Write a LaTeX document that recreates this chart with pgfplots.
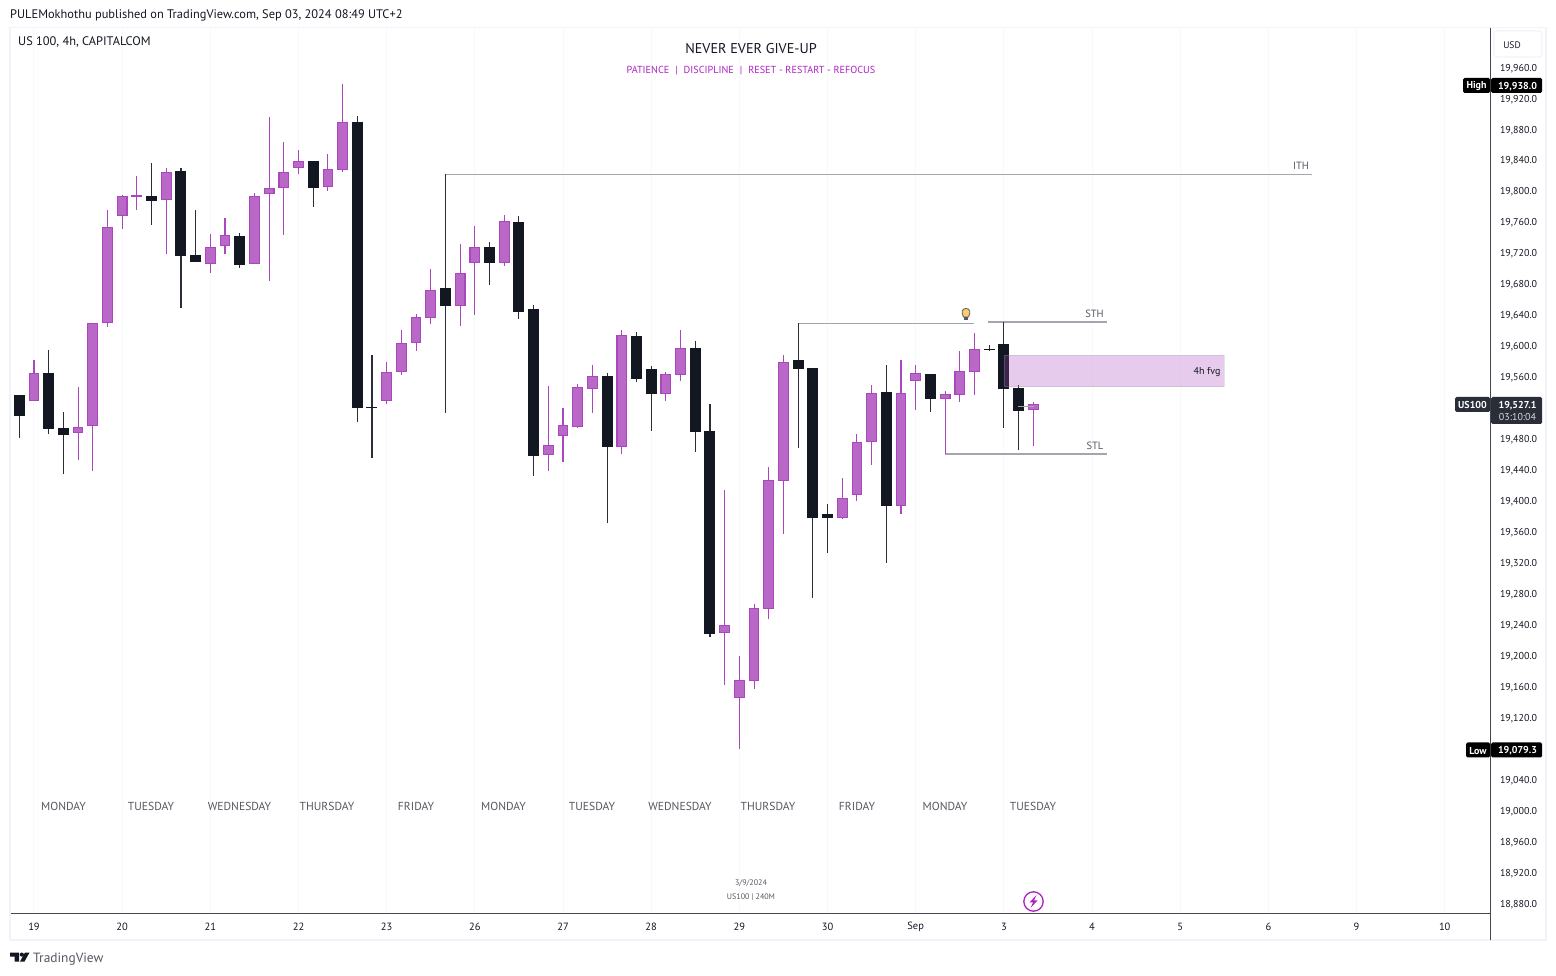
\documentclass[border=0pt]{standalone}
\usepackage{pgfplots}
\usepackage{pgfplotstable}
\usepackage{fontspec}
\setmainfont{PT Sans}
\pgfplotsset{compat=1.18}
\definecolor{dk}{HTML}{131722}
\definecolor{wickd}{HTML}{2A2E39}
\definecolor{pf}{HTML}{BA68C8}
\definecolor{pb}{HTML}{AB47BC}
\definecolor{frame}{HTML}{F0F3FA}
\definecolor{axl}{HTML}{434651}
\definecolor{gridc}{HTML}{F8F9FD}
\definecolor{lvl}{HTML}{A3A6AF}
\definecolor{txt}{HTML}{131722}
\definecolor{gry}{HTML}{555862}
\definecolor{mag}{HTML}{AE22C4}
\definecolor{bulb}{HTML}{FFCA6B}
\pgfplotstableread{
i t b h l
0 19536.9 19510.2 19536.9 19481.8
2 19565.3 19493.4 19595.1 19487.0
3 19493.9 19485.7 19515.0 19435.3
9 19794.0 19788.0 19836.6 19757.0
11 19826.3 19716.9 19830.2 19649.8
12 19717.8 19709.2 19775.9 19709.2
15 19742.3 19705.3 19746.2 19701.4
20 19839.2 19804.8 19839.2 19780.2
23 19889.6 19520.6 19897.4 19502.5
24 19521.4 19520.6 19588.6 19456.0
29 19675.1 19651.9 19822.0 19514.1
32 19728.1 19707.9 19734.6 19679.0
34 19760.4 19644.1 19768.2 19635.1
35 19648.0 19458.1 19653.2 19432.3
40 19561.5 19469.7 19565.3 19371.6
42 19613.1 19557.6 19618.3 19553.7
43 19570.5 19538.2 19574.4 19490.4
46 19597.6 19489.1 19606.7 19463.3
47 19490.4 19228.6 19525.2 19224.7
53 19582.1 19570.5 19629.5 19468.4
54 19571.8 19378.0 19571.8 19274.6
55 19383.1 19378.0 19396.1 19332.8
59 19540.7 19393.5 19575.6 19319.8
62 19564.0 19531.7 19564.0 19514.9
66 19596.3 19595.0 19601.5 19593.7
67 19602.8 19544.6 19630.7 19494.2
68 19545.9 19516.2 19549.8 19465.8
}\darkbars
\pgfplotstableread{
i t b h l
1 19564.9 19528.7 19582.1 19528.7
4 19495.2 19487.4 19547.3 19453.4
5 19629.5 19496.5 19629.5 19439.2
6 19753.5 19629.5 19775.9 19625.2
7 19793.6 19767.7 19795.3 19751.8
8 19795.3 19793.1 19819.8 19776.4
10 19824.6 19788.4 19830.2 19719.5
13 19727.7 19705.7 19744.9 19695.0
14 19743.2 19729.0 19765.6 19719.5
16 19793.6 19705.7 19797.5 19705.7
17 19803.9 19796.2 19896.1 19684.6
18 19824.6 19803.9 19863.8 19744.1
19 19838.8 19829.7 19853.4 19822.9
21 19828.5 19805.2 19848.3 19800.9
22 19889.2 19827.2 19938.0 19825.4
25 19566.2 19528.7 19579.6 19525.7
26 19603.7 19566.2 19620.9 19563.2
27 19637.2 19604.5 19641.6 19594.2
28 19672.1 19636.8 19699.7 19629.1
30 19694.1 19652.3 19732.0 19626.5
31 19727.7 19707.9 19755.2 19640.3
33 19761.3 19707.9 19769.4 19703.6
36 19471.9 19459.8 19548.5 19438.7
37 19497.7 19484.4 19520.1 19450.4
38 19546.8 19496.0 19551.1 19494.3
39 19561.0 19545.1 19575.7 19513.7
41 19614.0 19470.2 19620.9 19460.7
44 19563.6 19538.6 19566.6 19529.2
45 19597.2 19563.2 19620.9 19555.0
48 19239.3 19229.8 19414.1 19162.2
49 19168.3 19145.9 19199.7 19079.3
50 19261.3 19167.8 19266.9 19157.1
51 19426.6 19260.8 19443.9 19247.5
52 19579.1 19426.2 19588.5 19357.3
56 19403.4 19378.4 19429.6 19376.7
57 19475.7 19408.1 19486.5 19399.9
58 19539.0 19476.6 19549.8 19446.4
60 19539.0 19393.9 19582.1 19383.1
61 19564.9 19555.4 19575.6 19517.5
63 19537.7 19532.1 19542.0 19460.2
64 19567.4 19537.3 19593.7 19527.8
65 19595.9 19567.0 19617.0 19536.9
69 19524.8 19517.9 19527.8 19471.0
}\purplebars
\newcommand{\fs}[1]{\fontsize{#1}{#1}\selectfont}
\newcommand{\tb}[5][txt]{\node[text=#1,anchor=#4,inner sep=0pt,yshift=-0.8pt,font=\fs{#5}] at (#2) {#3};}
\begin{document}
\begin{tikzpicture}[x=1pt,y=1pt]
\path[use as bounding box] (0,0) rectangle (1556,975);
\fill[white] (0,0) rectangle (1556,975);
\begin{axis}[
  at={(10pt,61pt)}, anchor=south west, scale only axis,
  width=1480pt, height=886pt,
  xmin=-0.633, xmax=100.08, ymin=18866.4, ymax=20011,
  axis x line=bottom, axis y line=right,
  axis line style={color=axl,line width=1pt,-},
  xtick={1,7,13,19,25,31,37,43,49,55,61,67,73,79,85,91,97},
  xticklabels={19,20,21,22,23,26,27,28,29,30,Sep,3,4,5,6,9,10},
  ytick={18880,18920,18960,19000,19040,19120,19160,19200,19240,19280,19320,19360,19400,19440,19480,19560,19600,19640,19680,19720,19760,19800,19840,19880,19920,19960},
  scaled y ticks=false,
  major tick length=0pt,
  xmajorgrids, major grid style={color=gridc,line width=1pt},
  xticklabel style={font=\fs{10.5},text=txt,anchor=center,yshift=-12.5pt},
  yticklabel style={font=\fs{10},text=txt,anchor=west,xshift=6.5pt,yshift=-0.8pt},
  /pgf/number format/fixed,/pgf/number format/fixed zerofill,/pgf/number format/precision=1,/pgf/number format/1000 sep={,},/pgf/number format/assume math mode=true,
  error bars/error mark=none,
]
% levels
\addplot[lvl,line width=1.2pt,forget plot] coordinates {(29,19821.8) (87.97,19821.8)};
\addplot[lvl,line width=1.2pt,forget plot] coordinates {(53,19629.5) (65,19629.5)};
\addplot[lvl,line width=1.2pt,forget plot] coordinates {(65.94,19631.2) (74,19631.2)};
\addplot[lvl,line width=1.2pt,forget plot] coordinates {(63,19460.7) (74,19460.7)};
% wicks
\addplot[draw=none,mark=none,forget plot,error bars/.cd,y dir=both,y explicit,
   error bar style={wickd,line width=1.1pt}]
   table[x=i,y=t,y error plus expr=\thisrow{h}-\thisrow{t},y error minus expr=\thisrow{t}-\thisrow{l}]{\darkbars};
\addplot[draw=none,mark=none,forget plot,error bars/.cd,y dir=both,y explicit,
   error bar style={pb,line width=1.1pt}]
   table[x=i,y=t,y error plus expr=\thisrow{h}-\thisrow{t},y error minus expr=\thisrow{t}-\thisrow{l}]{\purplebars};
% bodies
\addplot[draw=none,mark=none,forget plot,error bars/.cd,y dir=both,y explicit,
   error bar style={dk,line width=11pt}]
   table[x=i,y=t,y error plus expr=0,y error minus expr=\thisrow{t}-\thisrow{b}]{\darkbars};
\addplot[draw=none,mark=none,forget plot,error bars/.cd,y dir=both,y explicit,
   error bar style={pb,line width=10.8pt}]
   table[x=i,y=t,y error plus expr=0,y error minus expr=\thisrow{t}-\thisrow{b}]{\purplebars};
\addplot[draw=none,mark=none,forget plot,error bars/.cd,y dir=both,y explicit,
   error bar style={pf,line width=8.6pt}]
   table[x=i,y expr=(\thisrow{t}+\thisrow{b})/2,y error expr={max((\thisrow{t}-\thisrow{b})/2-1.3,0)}]{\purplebars};
% tail line on last candle
\addplot[lvl,line width=1.1pt,forget plot] coordinates {(67.94,19522.3) (69.05,19522.3)};
% fvg box
\addplot[fill=pb,fill opacity=0.28,draw=lvl,draw opacity=0.3,line width=1pt,forget plot]
   coordinates {(67.03,19588) (82,19588) (82,19547.6) (67.03,19547.6)} --cycle;
\end{axis}
\begin{scope}[x=1pt,y=-1pt,shift={(0pt,975pt)}]
% frame
\draw[frame,line width=1.6pt] (10,27.5) rectangle (1546,940);
\draw[axl,line width=1pt] (1490.3,28) -- (1490.3,940);
% header
\tb{10,14.5}{PULEMokhothu published on TradingView.com, Sep 03, 2024 08:49 UTC+2}{west}{12.4}
\tb{18,41.5}{US 100, 4h, CAPITALCOM}{west}{12.4}
\tb{751,47.5}{NEVER EVER GIVE-UP}{center}{14.2}
\tb[mag]{751,69.5}{PATIENCE\hspace{6pt}|\hspace{6pt}DISCIPLINE\hspace{6pt}|\hspace{6pt}RESET - RESTART - REFOCUS}{center}{10.2}
% weekdays
\foreach \x/\d in {63.5/MONDAY,151/TUESDAY,239.5/WEDNESDAY,327/THURSDAY,416/FRIDAY,503.5/MONDAY,592/TUESDAY,680/WEDNESDAY,768/THURSDAY,857/FRIDAY,945/MONDAY,1033/TUESDAY}
  {\tb[gry]{\x,805.5}{\d}{center}{11.6}}
% level labels
\tb[gry]{1301,165}{ITH}{center}{10.5}
\tb[gry]{1094.5,313.5}{STH}{center}{10.5}
\tb[gry]{1095,445.5}{STL}{center}{10.5}
\tb{1207,371}{4h fvg}{center}{10}
\tb[gry]{751,882}{3/9/2024}{center}{8}
\tb[gry]{751,896}{US100 | 240M}{center}{8}
% bulb
\draw[fill=bulb,draw=gry,line width=0.8pt] (963.5,317) .. controls (961,312) and (962,308.5) .. (966,308.5) .. controls (970,308.5) and (971,312) .. (968.5,317) -- cycle;
\fill[gry] (964,317) rectangle (968,320);
% bolt badge
\draw[mag,line width=1.3pt,fill=white] (1033.5,901.5) circle (9.7);
\fill[mag] (1036.5,895) -- (1029.5,902.5) -- (1033,902.5) -- (1030.5,908) -- (1037.5,900.5) -- (1034,900.5) -- cycle;
% usd
\draw[frame,line width=1.2pt,fill=white,rounded corners=3pt] (1494,31) rectangle (1542,57);
\tb{1512,44.5}{USD}{center}{9.5}
% high
\fill[black,rounded corners=1.5pt] (1463,78) rectangle (1490,93);
\fill[black,rounded corners=1.5pt] (1491,78) rectangle (1542,93);
\tb[white]{1476.5,85.5}{\textbf{High}}{center}{10}
\tb[white]{1517.5,85.5}{\textbf{19,938.0}}{center}{10}
% low
\fill[black,rounded corners=1.5pt] (1466,742.5) rectangle (1490,757.5);
\fill[black,rounded corners=1.5pt] (1491,742.5) rectangle (1542,757.5);
\tb[white]{1478,750}{\textbf{Low}}{center}{10}
\tb[white]{1517.5,750}{\textbf{19,079.3}}{center}{10}
% last
\fill[wickd,rounded corners=1.5pt] (1455,397) rectangle (1490,412);
\fill[wickd,rounded corners=1.5pt] (1491,397) rectangle (1542,424);
\tb[white]{1472.5,404.5}{\textbf{US100}}{center}{10}
\tb[white]{1517.5,404.5}{\textbf{19,527.1}}{center}{10}
\tb[black!15]{1517.5,416}{03:10:04}{center}{10}
% logo
\fill[dk] (10,952.5) -- (19,952.5) -- (19,961.5) -- (14.5,961.5) -- (14.5,956.5) -- (10,956.5) -- cycle;
\fill[dk] (21.8,954.6) circle (2.1);
\fill[dk] (29.5,952.5) -- (25,952.5) -- (20,961.5) -- (24.5,961.5) -- cycle;
\tb[gry]{33,958.5}{TradingView}{west}{13.4}
\end{scope}
\end{tikzpicture}
\end{document}
